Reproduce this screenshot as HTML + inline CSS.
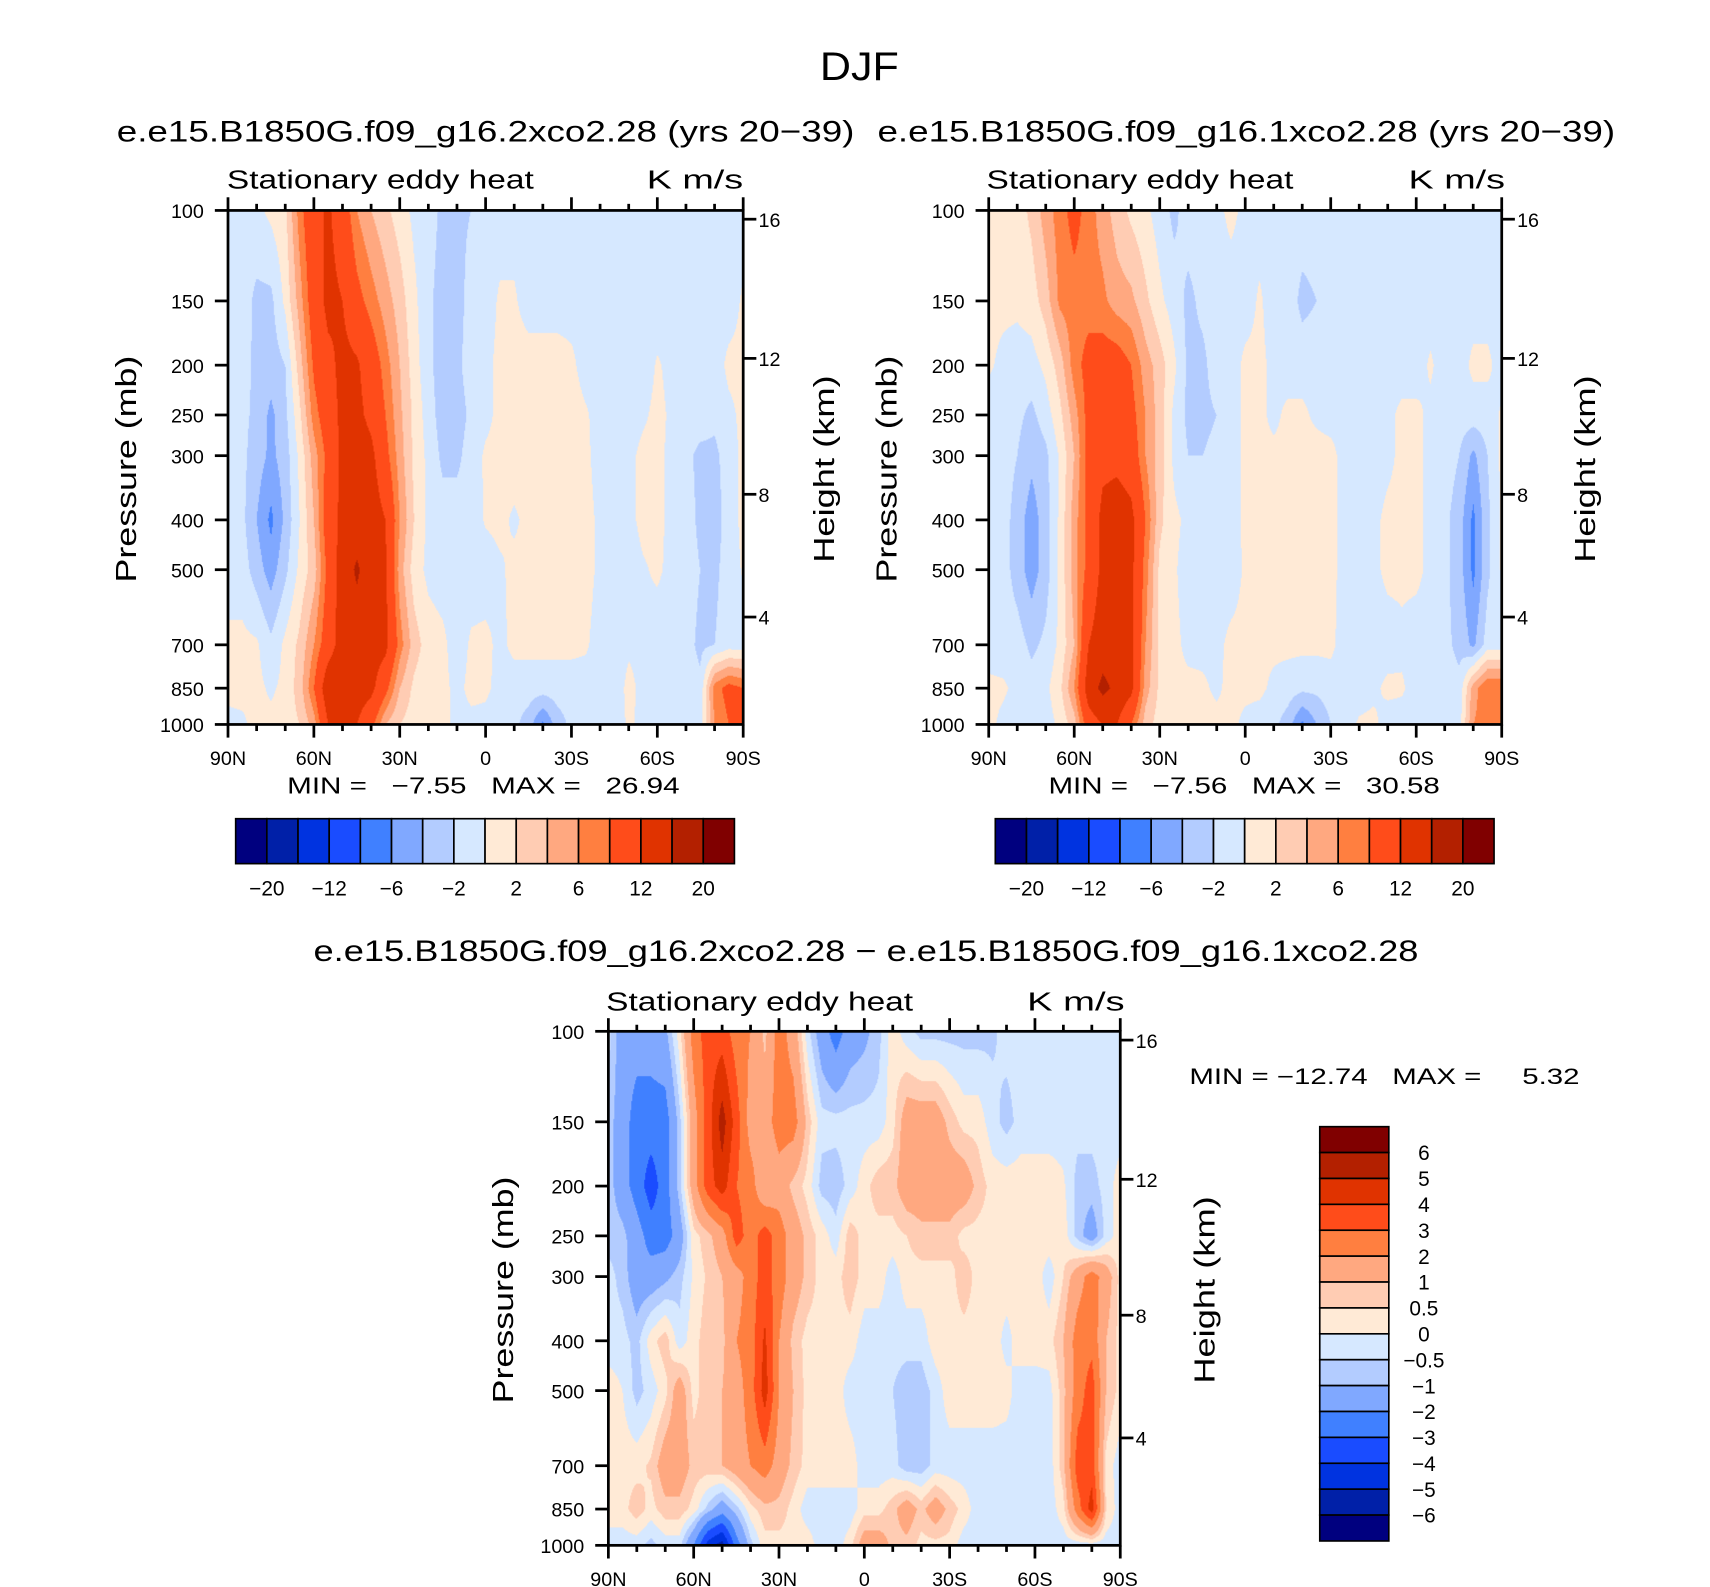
<!DOCTYPE html>
<html><head><meta charset="utf-8">
<style>
body{margin:0;background:#fff;overflow:hidden;width:1710px;height:1587px;}
#wrap{position:absolute;left:0;top:0;width:1560px;height:1448px;transform:scale(1.09615,1.09599);transform-origin:0 0;}
canvas{position:absolute;}
#ax{position:absolute;left:0;top:0;}
text{font-family:"Liberation Sans",sans-serif;fill:#000;}
</style></head><body>
<div id="wrap">
<canvas id="c1"></canvas>
<canvas id="c2"></canvas>
<canvas id="c3"></canvas>
<svg id="ax" width="1560" height="1448" viewBox="0 0 1560 1448">
<text x="784" y="73" font-size="36" text-anchor="middle" textLength="72" lengthAdjust="spacingAndGlyphs">DJF</text>
<text x="443" y="129" font-size="27" text-anchor="middle" textLength="673" lengthAdjust="spacingAndGlyphs">e.e15.B1850G.f09_g16.2xco2.28 (yrs 20−39)</text>
<text x="1137" y="129" font-size="27" text-anchor="middle" textLength="673" lengthAdjust="spacingAndGlyphs">e.e15.B1850G.f09_g16.1xco2.28 (yrs 20−39)</text>
<text x="790" y="877" font-size="27" text-anchor="middle" textLength="1008" lengthAdjust="spacingAndGlyphs">e.e15.B1850G.f09_g16.2xco2.28 − e.e15.B1850G.f09_g16.1xco2.28</text>
<text x="207" y="172" font-size="24" textLength="280" lengthAdjust="spacingAndGlyphs">Stationary eddy heat</text>
<text x="678" y="172" font-size="24" text-anchor="end" textLength="88" lengthAdjust="spacingAndGlyphs">K m/s</text>
<text x="900" y="172" font-size="24" textLength="280" lengthAdjust="spacingAndGlyphs">Stationary eddy heat</text>
<text x="1373" y="172" font-size="24" text-anchor="end" textLength="88" lengthAdjust="spacingAndGlyphs">K m/s</text>
<text x="553" y="922" font-size="24" textLength="280" lengthAdjust="spacingAndGlyphs">Stationary eddy heat</text>
<text x="1026" y="922" font-size="24" text-anchor="end" textLength="89" lengthAdjust="spacingAndGlyphs">K m/s</text>
<text x="441" y="724" font-size="21" text-anchor="middle" textLength="358" lengthAdjust="spacingAndGlyphs" xml:space="preserve">MIN =   −7.55   MAX =   26.94</text>
<text x="1135" y="724" font-size="21" text-anchor="middle" textLength="357" lengthAdjust="spacingAndGlyphs" xml:space="preserve">MIN =   −7.56   MAX =   30.58</text>
<text x="1085" y="989" font-size="20" textLength="356" lengthAdjust="spacingAndGlyphs" xml:space="preserve">MIN = −12.74   MAX =     5.32</text>
<text transform="translate(124,428) rotate(-90)" font-size="26" text-anchor="middle" textLength="207" lengthAdjust="spacingAndGlyphs">Pressure (mb)</text>
<text transform="translate(761,428) rotate(-90)" font-size="26" text-anchor="middle" textLength="171" lengthAdjust="spacingAndGlyphs">Height (km)</text>
<text transform="translate(818,428) rotate(-90)" font-size="26" text-anchor="middle" textLength="207" lengthAdjust="spacingAndGlyphs">Pressure (mb)</text>
<text transform="translate(1455,428) rotate(-90)" font-size="26" text-anchor="middle" textLength="171" lengthAdjust="spacingAndGlyphs">Height (km)</text>
<text transform="translate(468,1177) rotate(-90)" font-size="26" text-anchor="middle" textLength="207" lengthAdjust="spacingAndGlyphs">Pressure (mb)</text>
<text transform="translate(1108,1177) rotate(-90)" font-size="26" text-anchor="middle" textLength="171" lengthAdjust="spacingAndGlyphs">Height (km)</text>
<g id="axg"></g>
</svg>
</div>
<script>
// ---------- data ----------
const lats = [90,85,80,75,70,65,60,55,50,45,40,35,30,25,20,15,10,5,0,-5,-10,-15,-20,-25,-30,-35,-40,-45,-50,-55,-60,-65,-70,-75,-80,-85,-90];
const pressureLevels = [100,150,200,250,300,400,500,700,850,1000];
const pressureTicks = [100,150,200,250,300,400,500,700,850,1000];
const heightTicks = [16,12,8,4];
const latTickLabels = ["90N","60N","30N","0","30S","60S","90S"];
const absLevels = [-20,-16,-12,-8,-6,-4,-2,0,2,4,6,8,12,16,20];
const absLabels = ["−20","−12","−6","−2","2","6","12","20"];
const diffLevels = [-6,-5,-4,-3,-2,-1,-0.5,0,0.5,1,2,3,4,5,6];
const diffLabels = ["6","5","4","3","2","1","0.5","0","−0.5","−1","−2","−3","−4","−5","−6"];
const fillColors = ["#00007F","#0020A8","#0033E0","#1A4CFF","#4080FF","#80A8FF","#B3CCFF","#D6E8FF","#FFEAD6","#FFCCB3","#FFA880","#FF7F40","#FF4C1A","#E03300","#B32000","#800000"];

// panel 1: 2xco2 (rows = pressure levels, cols = lats)
const case2xValues = [
[-1,-1,-0.5,0.5,1.5,7,11,12.5,10,6,4,2.5,1,-0.5,-1,-2.5,-2.5,-2,-1, -1,-1,-1,-1,-1,-1,-1,-1,-1,-1,-1,-1,-1,-1,-1,-1,-1,-1],
[-1,-1,-2.5,-2.5,0.5,5,10,13,12,9,7,5,3,0.5,-1.5,-3,-3,-1,-1, 0.3,0.3,-1,-1,-1,-1,-1,-1,-1,-1,-1,-1,-1,-1,-1,-1,-1,0.3],
[-1,-1.2,-2.5,-3,-2,3,8.5,11,13,12.5,10,7,4,1,-1.5,-3,-2.5,-1,-0.5, 0.5,1,1,1,1,0.5,-1,-1,-1,-1,-1,0.2,-0.5,-1,-1,-1,0.5,0.5],
[-1,-1.5,-2.5,-4.5,-2.5,1.5,7,10,13,13,11,8,4.5,1.5,-1,-3,-3,-1.5,-0.5, 0.5,1,1,1,1,1,0.3,-1,-1,-1,-0.3,0.5,-0.3,-1,-1,-1.5,-0.5,0.5],
[-1,-1.5,-3,-4.5,-3,0.5,5,9,13,14,13,9,5,1.5,-0.5,-2.5,-2.5,-1,0.3, 0.5,1,1,1,1,1,0.5,-1,-1,-0.5,0.5,0.5,-0.5,-1.5,-2.5,-2.5,-1,0.5],
[-1,-1.5,-4,-6.5,-3.5,0,4,10,13,14,14,12,6,2,-0.5,-1,-1,-1,0.2, 0.5,-0.3,0.5,1,1,1,0.8,-0.5,-1,-0.5,0.5,0.5,-0.5,-1,-2.5,-3,-1,0.5],
[-1,-1,-3,-5,-2.5,0.5,3,9,14,16.5,14,12.5,5,1,-0.5,-1,-1,-1,-1, -0.3,0.5,0.5,1,1,1,0.8,-0.5,-1,-1,-0.2,0.3,-0.5,-1,-2,-2.5,-1,0.2],
[0.5,0.5,0.3,-1.5,0.5,2.5,6,10,14,14,14,13,7,3,1,0.5,-1,0.3,0.5, -0.5,0.5,0.5,0.5,0.5,0.5,0.3,-1,-1,-0.3,-0.5,-1,-1,-1.2,-2.5,-2,-1,-1],
[0.5,0.5,0.5,-0.3,0.5,3,8,15,15,14,13,9,4,1.5,0.5,0.5,-0.5,0.5,0.3, -0.5,-1,-1,-1,-1,-1,-1,-1,-1,0.5,-0.5,-1,-1,-1,-1.5,7,9,8],
[-0.5,-0.3,0.5,0.5,1,2,5,12,12,12,9,4,2,1,0.5,0.5,-0.5,-0.5,-0.5, -1,-1.5,-3,-6.5,-3,-1.5,-1,-1,-1,0.3,-0.5,-1,-1,-1,-1,6,8,8]
];
// panel 2: 1xco2
const case1xValues = [
[0.5,0.5,1,2.5,5,7,9,7,5,3,1.5,0.5,-1,-2.5,-1,-1,-0.5,0.5,-0.5, -1,-1,-1,-1,-1,-1,-1,-1,-1,-1,-1,-1,-1,-1,-1,-1,-1,-1],
[0.5,0.5,0.5,1,3,6.5,7,7,6.5,5,4.5,2.5,0.5,-1,-2.5,-1.5,-1,-1,-1, 0.3,-1,-1,-2.5,-2,-1,-1,-1,-1,-1,-1,-1,-1,-1,-1,-1,-1,-1],
[0.3,-0.5,-1,-0.8,0.5,3,7,9,9.5,9.5,8,5,3,0.5,-2.5,-2.5,-1,-1,0.5, 0.5,-0.5,-1,-1,-1,-1,-1,-1,-1,-1,-1,-1,0.3,-1,-1,0.5,0.5,-1],
[-1,-1,-1.5,-2.5,-1,1.5,5,9,10,10,9,6,3,-0.5,-2.5,-2.5,-2,-1,0.5, 0.5,-0.5,0.5,0.5,-0.5,-1,-1,-1,-1,-0.5,0.5,0.5,-0.5,-1,-1,-1,-1,0.3],
[-1,-1,-2,-3.5,-2.5,0.3,4,9,11,11,10,6,3,-0.5,-2,-2,-1.5,-1,0.5, 0.5,0.5,0.5,1,1,0.8,-1,-1,-1,-0.5,0.5,0.5,-0.5,-1,-2,-4.5,-2,0.5],
[-1,-1,-3,-5,-3,0.5,5,9,13,14,13,8,2.5,0.5,-0.5,-1,-1,-1,0.5, 0.5,0.5,0.5,1,1,0.8,-1,-1,-0.5,0.5,0.5,0.5,-0.5,-1.5,-3,-6.5,-2.5,0.3],
[-1,-1,-3,-5,-3,0.5,5,9,13,14,13,7,1.5,0.3,-1,-1,-1,-1,0.3, 0.5,0.5,0.5,1,1,0.8,-1,-1,-0.5,0.5,0.5,0.5,-0.5,-1.5,-3,-6.5,-2.5,0.3],
[-1,-1,-1,-2.5,-1.5,0.5,4,12,14,14,13,6,1.5,0.5,-0.5,-0.5,-0.5,0.5,0.5, 0.5,0.5,0.5,0.5,0.5,0.5,-1,-1,-1,-1,-0.5,-1,-1,-1.5,-2.5,-4.5,-1,-1],
[0.5,0.3,-0.5,-1,-0.5,1.5,6,14,17,15,13,5,1.5,0.5,0.5,0.3,-0.3,0.5,0.5, 0.5,-0.5,-1,-1.5,-1.5,-1,-1,-1,-0.5,0.5,0.3,-1,-1,-1,-1.5,5,8,8],
[0.5,-0.5,-1,-1,-1,0.5,3,10,12,12,8,3,1,0.5,0.5,0.5,0.5,0.5,-0.5, -1,-1.5,-3,-6.5,-4,-2,-1,0.3,0.5,-1,-1,-1,-1,-1,-1,6,7,7]
];
// panel 3: difference
const diffValues = [
[-0.3,-1.5,-1.5,-1.5,-1.2,0.3,2.5,3.5,3.5,2.5,2,0.8,2.5,1.5,-0.3,-1.5,-2.5,-1.5,-1.2, -0.7,0.3,-0.3,-0.7,-0.7,-0.7,-0.7,-0.7,-0.6,-0.3,-0.3,-0.3,-0.3,-0.3,-0.3,-0.3,-0.3,-0.3],
[-0.7,-1.5,-2.5,-2.5,-2.5,-0.7,1.5,3.5,5.5,3.5,1.5,1.5,2.5,2.5,0.8,-0.3,-0.3,-0.3,-0.3, -0.3,0.3,1.5,1.5,1.5,0.8,0.3,0.3,-0.3,-0.7,-0.3,-0.3,-0.3,-0.3,-0.3,-0.3,-0.3,-0.3],
[-0.7,-1.5,-2.5,-3.5,-2.5,-0.7,1.5,3.5,4.5,3,2.5,1,1.5,0.8,0.3,-0.7,-0.8,-0.3,0.3, 0.8,0.8,1.5,1.5,1.5,1.5,1.5,0.8,0.3,0.3,0.3,0.3,0.3,0.1,-0.7,-0.7,-0.3,0.3],
[-0.7,-0.8,-1.5,-2.5,-2.5,-1.5,0.3,0.8,1.5,3.5,2.5,3.5,2.5,1.5,0.8,0.3,-0.3,0.8,0.3, 0.3,0.3,0.5,0.8,0.8,0.8,0.3,0.3,0.3,0.3,0.3,0.3,0.3,0.3,-0.7,-1.5,-0.3,0.3],
[-0.3,-0.7,-1.5,-1.5,-1.2,-0.7,0.1,0.6,1,1.5,2.5,3.5,2.5,1.5,0.8,0.3,0.3,0.8,0.3, 0.3,-0.3,0.3,0.3,0.3,0.3,0.8,0.3,0.3,0.3,0.3,0.3,-0.3,0.5,1.5,2.5,1.5,0.3],
[-0.3,-0.3,-0.7,0.3,0.8,-0.3,0.3,0.8,0.8,2,2.5,4.2,2,0.8,0.3,0.3,0.3,0.3,-0.3, -0.3,-0.3,-0.3,-0.3,0.3,0.3,0.3,0.3,0.3,-0.2,0.3,0.3,0.3,1,2.5,2.7,1,0.3],
[0.3,0,-0.7,-0.3,0.3,1.5,0.3,0.8,1,1.5,2.5,4.5,2,1,0.3,0.3,0.3,-0.3,-0.3, -0.3,-0.5,-0.8,-0.8,-0.3,0.3,0.3,0.3,0.3,0.2,-0.3,-0.3,-0.2,0.8,2.5,3.5,1,0.3],
[0.3,0.3,0.3,0.6,1.5,1.5,0.8,0.8,1,1.5,2,2.5,1.5,0.8,0.3,0.3,0.3,0.3,-0.3, -0.3,-0.3,-0.8,-0.8,-0.3,-0.3,-0.3,-0.3,-0.3,-0.3,-0.3,-0.3,-0.3,0.8,3.5,3.5,0.3,-0.3],
[0.3,0.3,0.8,0.3,0.8,0.8,0.3,-0.7,-1.5,-0.7,0.3,0.8,0.8,0.3,-0.3,-0.3,-0.3,-0.3,0.3, 0.3,0.8,1.5,0.8,1.5,0.8,0.3,-0.3,-0.3,-0.3,-0.3,-0.3,-0.3,0.3,2.5,4.5,0.5,-0.3],
[-0.3,-0.3,-0.3,-0.7,-0.3,-0.3,-2,-4.5,-5.5,-2.5,-0.7,0.3,0.3,0.3,0.3,-0.3,-0.3,0.3,1.5, 1.5,0.8,0.8,0.3,0.3,0.3,-0.3,-0.3,-0.3,-0.3,-0.3,-0.3,-0.3,-0.3,-0.3,-0.3,-0.3,-0.3]
];

// ---------- layout ----------
const panels = [
 {id:'c1', key:'panel1', L:208, R:678, T:192, B:661, values:case2xValues, levels:absLevels},
 {id:'c2', key:'panel2', L:902, R:1370, T:192, B:661, values:case1xValues, levels:absLevels},
 {id:'c3', key:'panel3', L:555, R:1022, T:941, B:1410, values:diffValues, levels:diffLevels}
];
const heightFrac = {16:8/469, 12:135/469, 8:259/469, 4:371/469};
const SC = 1.1;
const NS = 'http://www.w3.org/2000/svg';
const axg = document.getElementById('axg');

function logFrac(p){ return Math.log10(p/100); }
function yOf(pn,p){ return pn.T + logFrac(p)*(pn.B-pn.T); }
function xOf(pn,lat){ return pn.L + (90-lat)/180*(pn.R-pn.L); }

function colorIndex(v, levels){
  let k = 0;
  while (k < levels.length && v >= levels[k]) k++;
  return k;
}
function hexToRgb(h){ return [parseInt(h.substr(1,2),16),parseInt(h.substr(3,2),16),parseInt(h.substr(5,2),16)]; }
const rgbColors = fillColors.map(hexToRgb);
const lpLevels = pressureLevels.map(logFrac);

function drawField(pn){
  const cv = document.getElementById(pn.id);
  const w = pn.R-pn.L, h = pn.B-pn.T;
  cv.style.left = pn.L+'px'; cv.style.top = pn.T+'px';
  cv.style.width = w+'px'; cv.style.height = h+'px';
  const W = Math.round(w*SC), H = Math.round(h*SC);
  cv.width = W; cv.height = H;
  const ctx = cv.getContext('2d');
  const img = ctx.createImageData(W,H);
  const nl = lats.length;
  for (let j=0;j<H;j++){
    const f = (j+0.5)/H;
    let k = 0;
    while (k < lpLevels.length-2 && f > lpLevels[k+1]) k++;
    const ty = Math.min(1,Math.max(0,(f-lpLevels[k])/(lpLevels[k+1]-lpLevels[k])));
    const r0 = pn.values[k], r1 = pn.values[k+1];
    for (let i=0;i<W;i++){
      const lat = 90 - 180*(i+0.5)/W;
      const fi = (90-lat)/5;
      let a = Math.floor(fi); if (a>nl-2) a=nl-2;
      const tx = fi-a;
      const v = (1-ty)*((1-tx)*r0[a]+tx*r0[a+1]) + ty*((1-tx)*r1[a]+tx*r1[a+1]);
      const c = rgbColors[colorIndex(v,pn.levels)];
      const o = (j*W+i)*4;
      img.data[o]=c[0]; img.data[o+1]=c[1]; img.data[o+2]=c[2]; img.data[o+3]=255;
    }
  }
  ctx.putImageData(img,0,0);
}

function mk(tag, attrs){
  const e = document.createElementNS(NS, tag);
  for (const k in attrs) e.setAttribute(k, attrs[k]);
  axg.appendChild(e);
  return e;
}

function drawAxes(pn){
  const fr = mk('rect',{x:pn.L,y:pn.T,width:pn.R-pn.L,height:pn.B-pn.T,fill:'none',stroke:'#000','stroke-width':2.5});
  
  
  for (let lat=90; lat>=-90; lat-=10){
    const x = xOf(pn,lat);
    const major = (lat%30===0);
    const len = major?12:6;
    const tb = mk('line',{x1:x,y1:pn.B,x2:x,y2:pn.B+len,stroke:'#000','stroke-width':2.5});
    
    
    const tt = mk('line',{x1:x,y1:pn.T,x2:x,y2:pn.T-len,stroke:'#000','stroke-width':2.5});
    
    
    if (major){
      const lb = mk('text',{x:x,y:pn.B+37,'font-size':18,'text-anchor':'middle'});
      lb.textContent = latTickLabels[(90-lat)/30];
      
      
    }
  }
  pressureTicks.forEach(p=>{
    const y = yOf(pn,p);
    const t = mk('line',{x1:pn.L-12,y1:y,x2:pn.L,y2:y,stroke:'#000','stroke-width':2.5});
    
    
    const lb = mk('text',{x:pn.L-22,y:y+7,'font-size':18,'text-anchor':'end'});
    lb.textContent = String(p);
    
    
  });
  heightTicks.forEach(hk=>{
    const y = pn.T + heightFrac[hk]*(pn.B-pn.T);
    const t = mk('line',{x1:pn.R,y1:y,x2:pn.R+12,y2:y,stroke:'#000','stroke-width':2.5});
    
    
    const lb = mk('text',{x:pn.R+14,y:y+7,'font-size':18});
    lb.textContent = String(hk);
    
    
  });
}

function drawHBar(x0,x1,y0,y1,key){
  const n = fillColors.length, bw = (x1-x0)/n;
  for (let i=0;i<n;i++){
    const r = mk('rect',{x:x0+i*bw,y:y0,width:bw,height:y1-y0,fill:fillColors[i],stroke:'#000','stroke-width':1.5});
    
    
  }
  absLabels.forEach((s,j)=>{
    const b = 2*j+1;
    const lb = mk('text',{x:x0+b*bw,y:y1+29,'font-size':19,'text-anchor':'middle'});
    lb.textContent = s;
    
    
  });
}
function drawVBar(x0,x1,y0,y1,key){
  const n = fillColors.length, bh = (y1-y0)/n;
  for (let i=0;i<n;i++){
    const r = mk('rect',{x:x0,y:y0+i*bh,width:x1-x0,height:bh,fill:fillColors[n-1-i],stroke:'#000','stroke-width':1.5});
    
    
  }
  diffLabels.forEach((s,j)=>{
    const lb = mk('text',{x:1299,y:y0+(j+1)*bh+7,'font-size':19,'text-anchor':'middle'});
    lb.textContent = s;
    
    
  });
}

panels.forEach(pn=>{ drawField(pn); drawAxes(pn); });
drawHBar(215,670,747,788,'panel1');
drawHBar(908,1363,747,788,'panel2');
drawVBar(1204,1267,1028,1406,'panel3');
</script>
</body></html>
